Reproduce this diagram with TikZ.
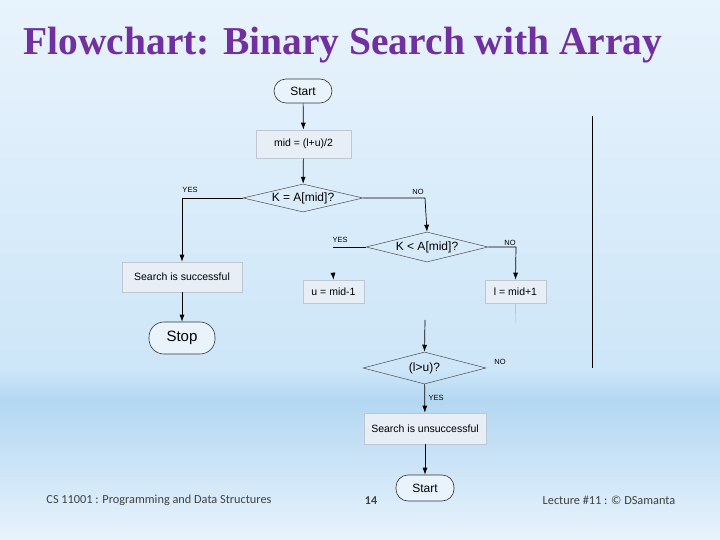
\documentclass[tikz,border=0pt]{standalone}
\usepackage{fontspec}
\setmainfont{Liberation Sans}
\newfontfamily\titlefont{Liberation Serif}
\newfontfamily\footfont{Carlito}
\usetikzlibrary{arrows.meta,shapes.geometric}
\definecolor{bgblue}{RGB}{205,230,248}
\definecolor{bglight}{RGB}{232,243,252}
\definecolor{bgdeep}{RGB}{180,215,242}
\definecolor{titlepurple}{RGB}{112,48,160}
\definecolor{boxfill}{RGB}{232,238,245}
\definecolor{boxline}{RGB}{190,198,210}
\definecolor{footgray}{RGB}{64,64,64}
\tikzset{
  every node/.style={inner sep=0pt},
  procbox/.style={rectangle,fill=boxfill,draw=boxline,line width=0.6pt,font=\fontsize{10.5}{12}\selectfont},
  termbox/.style={rectangle,rounded corners=12pt,draw=black!80,line width=0.6pt,fill=bglight,font=\fontsize{12}{14}\selectfont},
  decbox/.style={diamond,aspect=4,draw=black!70,line width=0.5pt,font=\fontsize{12}{14}\selectfont},
  flow/.style={line width=0.7pt,-{Latex[length=7pt,width=5pt]}},
  plain/.style={line width=0.7pt},
  lbl/.style={font=\fontsize{7.5}{8}\selectfont},
  foot/.style={font=\footfont\fontsize{12.3}{14}\selectfont,text=footgray}
}
\begin{document}
\begin{tikzpicture}[x=1pt,y=-1pt]
\useasboundingbox (0,0) rectangle (720,540);
\shade[top color=bglight,bottom color=bgblue] (0,0) rectangle (720,370);
\shade[top color=bgblue,bottom color=bgdeep] (0,370) rectangle (720,400);
\shade[top color=bgdeep,bottom color=bglight] (0,400) rectangle (720,540);
\node[font=\titlefont\bfseries\fontsize{39.5}{44}\selectfont,text=titlepurple] (title) at (343,45) {Flowchart: Binary Search with Array};

\node[termbox,minimum width=58pt,minimum height=24pt] (start) at (303,91) {Start};
\node[procbox,minimum width=95pt,minimum height=28pt] (mid) at (303.5,144) {mid = (l+u)/2};
\node[decbox,minimum width=120pt,minimum height=28pt] (d1) at (303,198) {K = A[mid]?};
\node[decbox,minimum width=122pt,minimum height=30pt] (d2) at (427,247) {K < A[mid]?};
\node[procbox,minimum width=120pt,minimum height=30pt] (succ) at (182,277) {Search is successful};
\node[procbox,minimum width=61pt,minimum height=23pt] (ubox) at (333.5,291.5) {u = mid-1};
\node[procbox,minimum width=61pt,minimum height=23pt] (lbox) at (515.5,291.5) {l = mid+1};
\node[termbox,rounded corners=15pt,minimum width=66pt,minimum height=32pt,font=\fontsize{15}{17}\selectfont] (stop) at (182,338) {Stop};
\node[decbox,minimum width=123pt,minimum height=32pt] (d3) at (424.5,368) {(l>u)?};
\node[procbox,minimum width=122pt,minimum height=31pt] (unsucc) at (425,428.5) {Search is unsuccessful};
\node[termbox,minimum width=58pt,minimum height=26pt] (end) at (425,488) {Start};

\coordinate (yesc) at (182,198);
\coordinate (noc) at (425,198);
\coordinate (yes2) at (333,247);
\coordinate (no2) at (516,247);
\coordinate (uin) at (333,273);
\coordinate (lout) at (516,323);
\coordinate (d3in) at (425,320);
\coordinate (vtop) at (592,116);
\coordinate (vbot) at (592,368);

\draw[flow] (start) -- (mid);
\draw[flow] (mid) -- (d1);
\draw[flow] (d1.west) -- (yesc) -- (succ.north);
\draw[flow] (d1.east) -- (noc) -- (d2.north);
\draw[plain] (d2.west) -- (yes2);
\draw[flow] (uin) -- (ubox.north);
\draw[flow] (d2.east) -- (no2) -- (lbox.north);
\draw[line width=0.5pt,black!30] (lbox.south) -- (lout);
\draw[flow] (succ) -- (stop);
\draw[flow] (d3in) -- (d3.north);
\draw[flow] (d3) -- (unsucc);
\draw[flow] (unsucc) -- (end);
\draw[line width=1pt] (vtop) -- (vbot);

\node[lbl] (l1) at (190,190) {YES};
\node[lbl] (l2) at (418,192) {NO};
\node[lbl] (l3) at (340,240) {YES};
\node[lbl] (l4) at (510,243) {NO};
\node[lbl] (l5) at (500,362) {NO};
\node[lbl] (l6) at (436,398) {YES};

\node[foot] (f1) at (159,500) {CS 11001 : Programming and Data Structures};
\node[foot,font=\footfont\bfseries\fontsize{12}{14}\selectfont] (f2) at (371,501) {14};
\node[foot] (f3) at (609,500) {Lecture \#11 : © DSamanta};
\end{tikzpicture}
\end{document}
